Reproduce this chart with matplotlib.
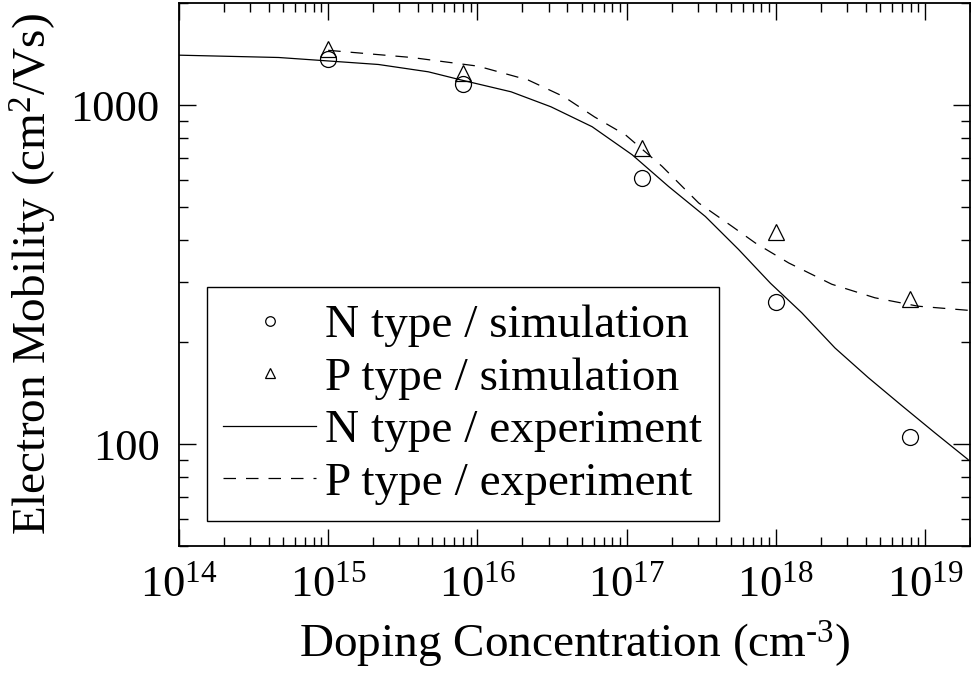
import numpy as np
import matplotlib
matplotlib.use("Agg")
import matplotlib.pyplot as plt
from matplotlib.ticker import LogLocator, NullFormatter

# ── Data ──────────────────────────────────────────────────────────────────────
n_sim_x = [1e15, 8e15, 1.26e17, 1e18, 7.9e18]
n_sim_y = [1370, 1155, 610, 262, 105]

p_sim_x = [1e15, 8e15, 1.26e17, 1e18, 7.9e18]
p_sim_y = [1460, 1240, 747, 421, 267]

n_exp_x = [1e14, 4.66e14, 1e15, 2.17e15, 4.69e15, 7.8e15, 1.68e16, 3.11e16,
           5.87e16, 1.09e17, 1.91e17, 3.37e17, 5.62e17, 9.2e17, 1.49e18,
           2.49e18, 4.16e18, 6.95e18, 1.16e19, 1.94e19]
n_exp_y = [1403, 1381, 1349, 1317, 1253, 1185, 1094, 988,
           863, 713, 575, 469, 375, 298, 244,
           192, 157, 130, 108, 90]

p_exp_x = [1e15, 3.63e15, 1.01e16, 2.19e16, 3.8e16, 6.1e16, 9.84e16, 1.73e17,
           3.04e17, 5.07e17, 7.27e17, 1.22e18, 2.37e18, 4.61e18, 8.97e18, 1.94e19]
p_exp_y = [1450, 1381, 1302, 1185, 1058, 922, 816, 659,
           514, 439, 392, 342, 296, 270, 255, 248]

legend_labels = ["N type / simulation", "P type / simulation",
                 "N type / experiment", "P type / experiment"]
x_ticks = [1e14, 1e15, 1e16, 1e17, 1e18, 1e19]
x_tick_labels = [r"$10^{14}$", r"$10^{15}$", r"$10^{16}$", r"$10^{17}$",
                 r"$10^{18}$", r"$10^{19}$"]
y_ticks = [100, 1000]
y_tick_labels = ["100", "1000"]

# ── Style ─────────────────────────────────────────────────────────────────────
plt.rcParams["font.family"] = ["Liberation Serif", "DejaVu Serif"]
plt.rcParams["mathtext.fontset"] = "custom"
plt.rcParams["mathtext.rm"] = "Liberation Serif"
plt.rcParams["mathtext.it"] = "Liberation Serif:italic"
plt.rcParams["font.size"] = 33

fig = plt.figure(figsize=(9.71, 6.75), dpi=100)
ax = fig.add_axes([0.1843, 0.191, 0.8147, 0.8046])

ax.plot(n_exp_x, n_exp_y, color="black", lw=0.9, ls="-", label=legend_labels[2])
ax.plot(p_exp_x, p_exp_y, color="black", lw=0.9, dashes=(10, 8), label=legend_labels[3])
ax.plot(n_sim_x, n_sim_y, ls="none", marker="o", ms=11.5, mfc="none", mec="black",
        mew=0.9, label=legend_labels[0])
ax.plot(p_sim_x, p_sim_y, ls="none", marker="^", ms=11.5, mfc="none", mec="black",
        mew=0.9, label=legend_labels[1])

ax.set_xscale("log")
ax.set_yscale("log")
ax.set_xlim(1e14, 2e19)
ax.set_ylim(50, 2000)

ax.set_xticks(x_ticks)
ax.set_xticklabels(x_tick_labels, fontsize=32)
ax.xaxis.set_minor_locator(LogLocator(base=10, subs=np.arange(2, 10), numticks=20))
ax.xaxis.set_minor_formatter(NullFormatter())
ax.set_yticks(y_ticks)
ax.set_yticklabels(y_tick_labels, fontsize=32)
ax.yaxis.set_minor_locator(LogLocator(base=10, subs=np.arange(2, 10), numticks=20))
ax.yaxis.set_minor_formatter(NullFormatter())

ax.tick_params(which="both", direction="in", top=True, right=True, width=1)
ax.tick_params(which="major", length=12, pad=14)
ax.tick_params(which="minor", length=6.5)
for s in ax.spines.values():
    s.set_linewidth(1.3)

ax.set_xlabel(r"Doping Concentration (cm$^{\text{-}3}$)", fontsize=34, labelpad=10)
ax.set_ylabel("Electron Mobility (cm$^{2}$/Vs)", fontsize=34, labelpad=8)

handles, labels = ax.get_legend_handles_labels()
order = [2, 3, 0, 1]
leg = ax.legend([handles[i] for i in order], [labels[i] for i in order],
                loc="lower left", bbox_to_anchor=(0.0354, 0.046), borderaxespad=0,
                fancybox=False, edgecolor="black", framealpha=1, markerscale=0.6,
                handlelength=1.95, handletextpad=0.2, labelspacing=0.2,
                borderpad=0.35, fontsize=34)
leg.get_frame().set_linewidth(1.0)

fig.savefig("out.png", dpi=100)
